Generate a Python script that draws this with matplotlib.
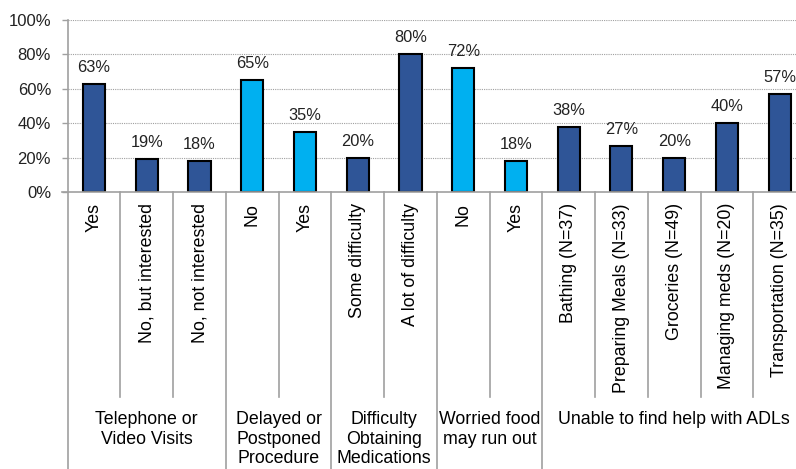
import matplotlib
matplotlib.use("Agg")
import matplotlib.pyplot as plt
from matplotlib.ticker import PercentFormatter

plt.rcParams['font.family'] = ['Liberation Sans', 'DejaVu Sans']

categories = ["Yes", "No, but interested", "No, not interested",
              "No", "Yes",
              "Some difficulty", "A lot of difficulty",
              "No", "Yes",
              "Bathing (N=37)", "Preparing Meals (N=33)", "Groceries (N=49)",
              "Managing meds (N=20)", "Transportation (N=35)"]
values = [63, 19, 18, 65, 35, 20, 80, 72, 18, 38, 27, 20, 40, 57]
bar_colors = ["#2F5597"] * 3 + ["#00B0F0"] * 2 + ["#2F5597"] * 2 + ["#00B0F0"] * 2 + ["#2F5597"] * 5
groups = ["Telephone or\nVideo Visits", "Delayed or\nPostponed\nProcedure",
          "Difficulty\nObtaining\nMedications", "Worried food\nmay run out",
          "Unable to find help with ADLs"]
group_sizes = [3, 2, 2, 2, 5]
yticks = [0, 20, 40, 60, 80, 100]

W, H = 796, 469
fig = plt.figure(figsize=(W / 100, H / 100), dpi=100)
left_px, right_px, top_px, bot_px = 67.7, 806.0, 20.0, 192.0
ax = fig.add_axes([left_px / W, 1 - bot_px / H, (right_px - left_px) / W, (bot_px - top_px) / H])

x = list(range(len(values)))
bars = ax.bar(x, values, width=0.42, color=bar_colors, edgecolor="black", linewidth=1.5, zorder=3)
for xi, v in zip(x, values):
    ax.annotate(f"{v}%", (xi, v), xytext=(0, 6.5), textcoords="offset points",
                ha="center", va="bottom", fontsize=11.8, color="#222222")

ax.set_xlim(-0.5, len(values) - 0.5)
ax.set_ylim(0, 100)
ax.set_yticks(yticks)
ax.yaxis.set_major_formatter(PercentFormatter(decimals=0))
ax.tick_params(axis="y", length=4, width=1, color="#A0A0A0", pad=8, labelsize=12, labelcolor="#222222")
ax.set_xticks(x)
ax.set_xticklabels(categories, rotation=90, fontsize=12.8, color="black")
ax.tick_params(axis="x", length=0, pad=8)

for yv in yticks[1:]:
    ax.axhline(yv, color="#A0A0A0", linestyle=(0, (1, 1)), linewidth=0.8, zorder=1)

for s in ["top", "right", "left", "bottom"]:
    ax.spines[s].set_visible(False)

sep_color = "#A0A0A0"
axis_h = bot_px - top_px
inner_bottom = -(397 - bot_px) / axis_h
outer_bottom = -(H + 5 - bot_px) / axis_h
trans = ax.get_xaxis_transform()

# baseline and left axis
ax.plot([-0.5 - 0.1, len(values) - 0.5], [0, 0], transform=trans, color=sep_color, lw=1.2, clip_on=False, zorder=4)
ax.plot([-0.5, -0.5], [1, outer_bottom], transform=trans, color=sep_color, lw=1.2, clip_on=False, zorder=4)

start = 0
group_bounds = []
for g, n in zip(groups, group_sizes):
    group_bounds.append((start, start + n))
    for k in range(start + 1, start + n):
        ax.plot([k - 0.5, k - 0.5], [0, inner_bottom], transform=trans, color=sep_color, lw=1.2, clip_on=False)
    end = start + n
    if end < len(values):
        ax.plot([end - 0.5, end - 0.5], [0, outer_bottom], transform=trans, color=sep_color, lw=1.2, clip_on=False)
    start = end

label_y = -(411 - bot_px) / axis_h
for (s, e), g in zip(group_bounds, groups):
    cx = (s + e - 1) / 2
    ax.text(cx, label_y, g, transform=trans, ha="center", va="top", fontsize=12.8,
            linespacing=1.2, clip_on=False)

fig.savefig("out.png", dpi=100)
